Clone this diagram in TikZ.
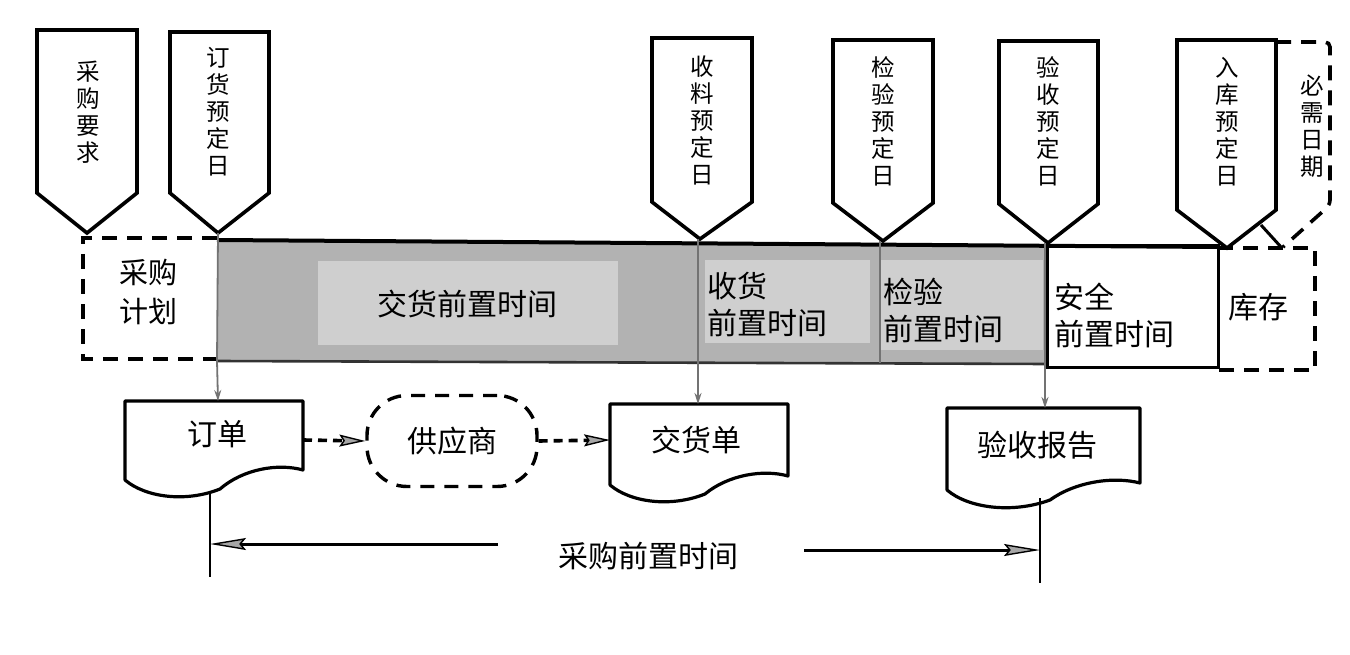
\documentclass[tikz,border=0pt]{standalone}
\usepackage{fontspec}
\newfontfamily\cjk{Noto Sans CJK SC}
\usetikzlibrary{arrows.meta,calc}
\tikzset{
  marker/.style={draw=black, line width=3.6pt, fill=white, line join=miter},
  vtext/.style={font=\cjk\fontsize{23.5}{27}\selectfont, align=center, inner sep=0pt},
  btext/.style={font=\cjk\fontsize{30}{37}\selectfont, align=left, inner sep=0pt},
  dtext/.style={font=\cjk\fontsize{30}{36}\selectfont, inner sep=0pt},
  dashbox/.style={draw=black, line width=3.6pt, dash pattern=on 15pt off 10pt},
  docbox/.style={draw=black, line width=3.2pt, fill=white, line join=round},
  sepline/.style={draw=black!55, line width=1.8pt},
  septip/.style={sepline, -{Stealth[length=11pt,width=7pt,fill=black!45]}},
  dasharrow/.style={draw=black, line width=3.6pt, dash pattern=on 9pt off 6pt,
     -{Stealth[length=26pt,width=12pt,inset=4pt,fill=black!35,line width=1.4pt]}},
  dimarrow/.style={draw=black, line width=3pt,
     -{Stealth[length=36pt,width=12pt,inset=5pt,fill=black!35,line width=1.4pt]}},
  thinline/.style={draw=black, line width=2pt}
}
\begin{document}
\begin{tikzpicture}[x=1pt,y=-1pt]
\useasboundingbox (0,0) rectangle (1350,655);
\fill[white] (0,0) rectangle (1350,655);

% ---------- bar ----------
\fill[black!30] (217,240) -- (1047,245) -- (1047,364) -- (217,361) -- cycle;
\fill[black!19] (318,261) rectangle (618,345);
\fill[black!19] (705,260) rectangle (870,343);
\fill[black!19] (880,260) rectangle (1043,350);
\draw[line width=2.6pt, black!80] (217,361) -- (1047,364);
\draw[line width=3pt, fill=white] (1047,246) rectangle (1218,367);
\draw[line width=4pt] (217,240) -- (1218,247);
\draw[dashbox] (217,238) -- (83,238) -- (83,359) -- (217,359);
\draw[dashbox] (1218,248) -- (1315,248) -- (1315,370) -- (1218,370);

% ---------- pentagon markers ----------
\draw[dashbox, rounded corners=5pt] (1276,42) -- (1330,42) -- (1330,205) -- (1283,247);
\draw[line width=3pt] (1261,225) -- (1281,247);

\draw[marker] (37,30) -- (137,30) -- (137,193) -- (87,233) -- (37,193) -- cycle;
\draw[marker] (170,32) -- (269,32) -- (269,193) -- (218,233) -- (170,193) -- cycle;
\draw[marker] (652,38) -- (752,38) -- (752,202) -- (700,239) -- (652,202) -- cycle;
\draw[marker] (833,40) -- (933,40) -- (933,203) -- (883,241) -- (833,203) -- cycle;
\draw[marker] (999,41) -- (1098,41) -- (1098,204) -- (1048,243) -- (999,204) -- cycle;
\draw[marker] (1177,40) -- (1276,40) -- (1276,210) -- (1227,248) -- (1177,210) -- cycle;

\coordinate (t2) at (218,233);
\coordinate (t3) at (698,239);
\coordinate (t4) at (880,241);
\coordinate (t5) at (1045,243);

\node[vtext] (m1) at (88,112) {采\\购\\要\\求};
\node[vtext] (m2) at (218,112) {订\\货\\预\\定\\日};
\node[vtext] (m3) at (702,120) {收\\料\\预\\定\\日};
\node[vtext] (m4) at (883,121) {检\\验\\预\\定\\日};
\node[vtext] (m5) at (1048,121) {验\\收\\预\\定\\日};
\node[vtext] (m6) at (1227,122) {入\\库\\预\\定\\日};
\node[vtext] (m7) at (1312,126) {必\\需\\日\\期};

% ---------- bar texts ----------
\node[btext, align=center, font=\cjk\fontsize{29}{39}\selectfont] (plan) at (148,292) {采购\\计划};
\node[dtext] (dlt) at (467,304) {交货前置时间};
\node[btext, anchor=west] (rlt) at (707,305) {收货\\前置时间};
\node[btext, anchor=west] (ilt) at (883,310) {检验\\前置时间};
\node[btext, anchor=west] (slt) at (1054,315) {安全\\前置时间};
\node[dtext] (stock) at (1258,307) {库存};

% ---------- documents ----------
\draw[docbox] (125,401) -- (303,401) -- (303,470) .. controls (278,463) and (243,469) .. (220,489)
   .. controls (185,503) and (145,497) .. (125,480) -- cycle;
\draw[docbox] (610,404) -- (788,404) -- (788,476) .. controls (763,469) and (728,475) .. (705,494)
   .. controls (670,508) and (630,502) .. (610,485) -- cycle;
\draw[docbox] (947,408) -- (1140,408) -- (1140,483) .. controls (1113,476) and (1075,482) .. (1050,500)
   .. controls (1012,514) and (968,508) .. (947,490) -- cycle;

\coordinate (d1top) at (218,401);
\coordinate (d2top) at (698,404);
\coordinate (d3top) at (1045,408);
\coordinate (d1r) at (303,440);
\coordinate (d2l) at (610,440);
\coordinate (d1bot) at (210,491);
\coordinate (d3bot) at (1040,498);
\coordinate (v1end) at (210,577);
\coordinate (v3end) at (1040,583);

\node[dtext] (order) at (217,434) {订单};
\node[dtext] (note) at (696,440) {交货单};
\node[dtext] (report) at (1037,445) {验收报告};

\node[draw=black, line width=3.4pt, dash pattern=on 14pt off 10pt, rounded corners=40pt,
      minimum width=170pt, minimum height=91pt, dtext] (sup) at (452,441) {供应商};

% ---------- connectors ----------
\draw[sepline] (t2) -- (217,361);
\draw[septip] (217,361) -- (d1top);
\draw[sepline] (t3) -- (698,362);
\draw[septip] (698,362) -- (d2top);
\draw[sepline] (t4) -- (880,363);
\draw[sepline] (t5) -- (1045,364);
\draw[septip] (1045,364) -- (d3top);

\draw[dasharrow] (d1r) -- (sup.west);
\draw[dasharrow] (sup.east) -- (d2l);

\draw[thinline] (d1bot) -- (v1end);
\draw[thinline] (d3bot) -- (v3end);

\node[dtext] (lead) at (648,556) {采购前置时间};
\coordinate (la) at (498,544);
\coordinate (lb) at (210,544);
\coordinate (ra) at (804,550);
\coordinate (rb) at (1040,550);
\draw[dimarrow] (la) -- (lb);
\draw[dimarrow] (ra) -- (rb);
\end{tikzpicture}
\end{document}
